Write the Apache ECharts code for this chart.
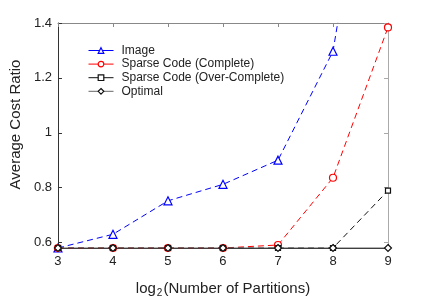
<!DOCTYPE html>
<html><head><meta charset="utf-8">
<script src="https://cdn.jsdelivr.net/npm/echarts@6/dist/echarts.min.js"></script>
<style>html,body{margin:0;padding:0;background:#fff}#c{width:426px;height:307px}</style>
</head><body><div id="c"></div>
<script>
const xValues = [3, 4, 5, 6, 7, 8, 9];
const imageVals = [0.58, 0.63, 0.752, 0.812, 0.9, 1.297, 2.5];
const sparseComplete = [0.58, 0.58, 0.58, 0.58, 0.591, 0.836, 1.384];
const sparseOver = [0.58, 0.58, 0.58, 0.58, 0.58, 0.58, 0.789];
const optimal = [0.58, 0.58, 0.58, 0.58, 0.58, 0.58, 0.58];
const yTicks = [0.6, 0.8, 1, 1.2, 1.4];
const seriesNames = ['Image', 'Sparse Code (Complete)', 'Sparse Code (Over-Complete)', 'Optimal'];

const FONT = '"Liberation Sans", Arial, sans-serif';
const chart = echarts.init(document.getElementById('c'), null, {renderer: 'canvas'});
const pairs = v => xValues.map((x, i) => [x, v[i]]);
const dash = [6, 4];

function mk(name, data, color, symbol, size, lineType, lineColor) {
  return {
    name, type: 'line', data: pairs(data), clip: true,
    symbol, symbolSize: size, showAllSymbol: true,
    lineStyle: {color: lineColor || color, width: 1, type: lineType},
    itemStyle: {color: '#fff', borderColor: color, borderWidth: 1.2},
    emphasis: {disabled: true}, animation: false
  };
}

chart.setOption({
  animation: false,
  textStyle: {fontFamily: FONT},
  grid: {left: 55, right: 38, top: 23, bottom: 59, containLabel: false},
  legend: {
    orient: 'vertical', left: 83, top: 39.5,
    itemWidth: 25, itemHeight: 7, itemGap: 1.6,
    textStyle: {fontFamily: FONT, fontSize: 12, color: '#222', padding: [0, 0, 0, 3]},
    itemStyle: {color: '#fff', borderWidth: 1.2},
    lineStyle: {type: 'solid', width: 1},
    data: seriesNames
  },
  xAxis: [{
    type: 'value', min: 3, max: 9, interval: 1, position: 'bottom',
    name: '{a|log}{s|2}{a|(Number of Partitions)}', nameLocation: 'middle', nameGap: 32,
    nameTextStyle: {rich: {
      a: {fontFamily: FONT, fontSize: 15, color: '#222', lineHeight: 18},
      s: {fontFamily: FONT, fontSize: 10, color: '#222', lineHeight: 18, padding: [8, 1, 0, 1]}
    }},
    axisLine: {lineStyle: {color: '#333', width: 1}},
    axisTick: {inside: true, length: 4, lineStyle: {color: '#333'}},
    axisLabel: {fontFamily: FONT, fontSize: 13, color: '#222', margin: 7},
    splitLine: {show: false}
  }, {
    type: 'value', min: 3, max: 9, interval: 1, position: 'top',
    axisLine: {show: true, lineStyle: {color: '#888', width: 1}},
    axisTick: {show: true, inside: true, length: 4, lineStyle: {color: '#888'}},
    axisLabel: {show: false}, splitLine: {show: false}
  }],
  yAxis: [{
    type: 'value', min: 0.58, max: 1.4, position: 'left',
    name: 'Average Cost Ratio', nameLocation: 'middle', nameRotate: 90, nameGap: 33,
    nameTextStyle: {fontFamily: FONT, fontSize: 15, color: '#222', padding: [0, 0, 0, 22]},
    axisLine: {show: true, lineStyle: {color: '#333', width: 1}},
    axisTick: {show: true, inside: true, length: 4, customValues: yTicks, lineStyle: {color: '#333'}},
    axisLabel: {fontFamily: FONT, fontSize: 13, color: '#222', margin: 6, customValues: yTicks,
      formatter: v => String(Math.round(v * 10) / 10)},
    splitLine: {show: false}
  }, {
    type: 'value', min: 0.58, max: 1.4, position: 'right',
    axisLine: {show: true, lineStyle: {color: '#aaa', width: 1}},
    axisTick: {show: true, inside: true, length: 4, customValues: yTicks, lineStyle: {color: '#aaa'}},
    axisLabel: {show: false}, splitLine: {show: false}
  }],
  series: [
    mk(seriesNames[0], imageVals, '#0000ff', 'triangle', 8, dash),
    mk(seriesNames[1], sparseComplete, '#ff0000', 'circle', 7, dash),
    mk(seriesNames[2], sparseOver, '#111', 'rect', 5, dash),
    mk(seriesNames[3], optimal, '#111', 'diamond', 7, 'solid', '#666')
  ]
});
</script></body></html>
